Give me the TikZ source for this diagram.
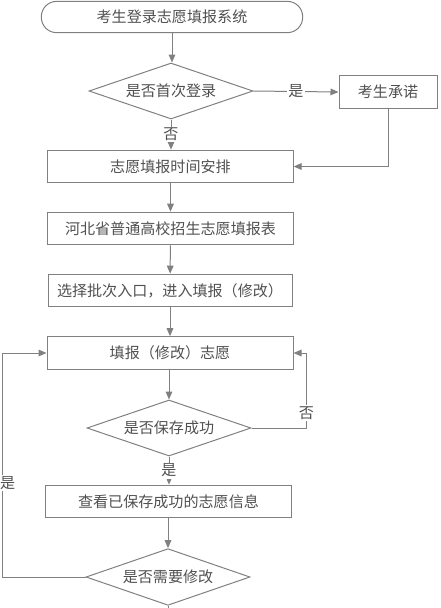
\documentclass[tikz,border=0pt]{standalone}
\usepackage{fontspec}
\newfontfamily\cjk{Noto Sans CJK SC}
\usetikzlibrary{shapes.geometric,arrows.meta}
\definecolor{linegray}{HTML}{808080}
\definecolor{textgray}{HTML}{505050}
\begin{document}
\begin{tikzpicture}[x=0.75pt,y=-0.75pt,
  every node/.style={font=\cjk\fontsize{11.3pt}{13pt}\selectfont, text=textgray},
  procbox/.style={draw=linegray, line width=0.75pt, rectangle, minimum height=24.5pt, inner sep=0pt},
  decis/.style={draw=linegray, line width=0.75pt, diamond, aspect=3, minimum width=123pt, minimum height=42pt, inner sep=0pt},
  term/.style={draw=linegray, line width=0.75pt, rectangle, rounded corners=11.5pt, minimum width=196pt, minimum height=23.5pt, inner sep=0pt},
  conn/.style={draw=linegray, line width=0.75pt, -{Triangle[length=6pt,width=5pt]}},
  plain/.style={draw=linegray, line width=0.75pt},
  lbl/.style={fill=white, inner sep=1pt}
]
\useasboundingbox (0,0) rectangle (441,608);
\node[term] (t) at (172,17) {考生登录志愿填报系统};
\node[decis] (d1) at (171,91) {是否首次登录};
\node[procbox, minimum width=73.5pt] (p) at (388,92) {考生承诺};
\node[procbox, minimum width=184pt] (b2) at (170.5,166.5) {志愿填报时间安排};
\node[procbox, minimum width=184pt] (b3) at (170.5,228.5) {河北省普通高校招生志愿填报表};
\node[procbox, minimum width=183pt] (b4) at (170,290.5) {选择批次入口，进入填报（修改）};
\node[procbox, minimum width=184.5pt] (b5) at (170,353) {填报（修改）志愿};
\node[decis] (d2) at (169,428) {是否保存成功};
\node[procbox, minimum width=185pt] (b6) at (168.5,501.5) {查看已保存成功的志愿信息};
\node[decis, minimum height=42.5pt] (d3) at (168,577) {是否需要修改};
\coordinate (endc) at (168,608);

\draw[conn] (t) -- (t |- d1.north);
\draw[conn] (d1.east) -- node[lbl] {是} (p.west);
\draw[conn] (d1.south) -- node[lbl] {否} (d1.south |- b2.north);
\draw[conn] (p.south) |- (b2.east);
\draw[conn] (b2) -- (b3);
\draw[conn] (b3) -- (b4);
\draw[conn] (b4) -- (b5);
\draw[conn] (b5.south) -- (b5.south -| d2.north) -- (d2.north);
\draw[conn] (d2.east) -- ++(55,0) |- node[lbl, pos=0.1] {否} (b5.east);
\draw[conn] (d2.south) -- node[lbl] {是} (d2.south |- b6.north);
\draw[conn] (b6.south) -- (b6.south -| d3.north) -- (d3.north);
\draw[conn] (d3.west) -- ++(-83,0) |- node[lbl, pos=0.21, xshift=3.8pt] {是} (b5.west);
\draw[plain] (d3.south) -- (endc);
\end{tikzpicture}
\end{document}
